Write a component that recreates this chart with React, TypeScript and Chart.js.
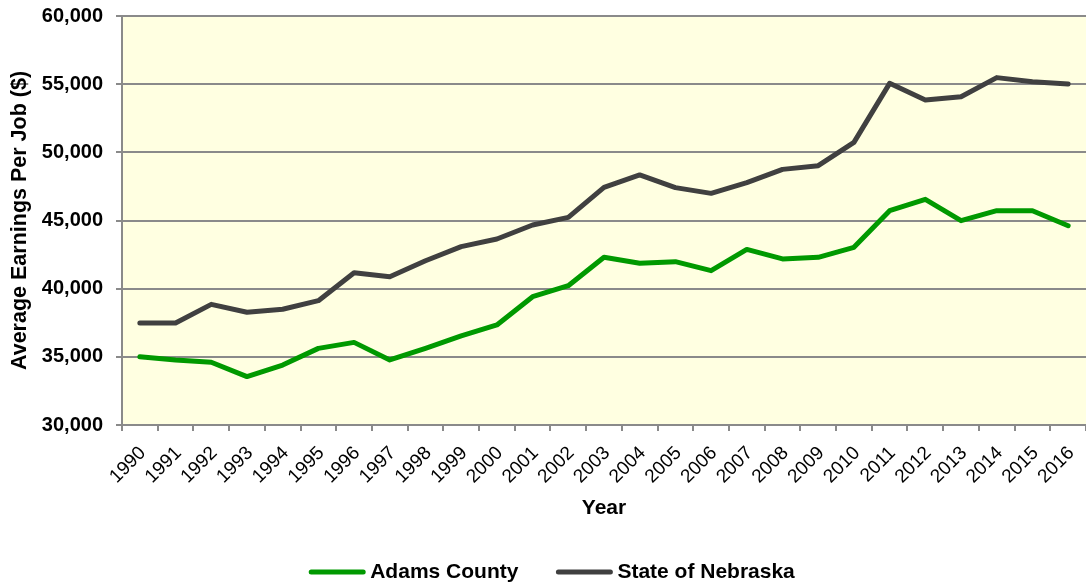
import React, { useEffect, useRef } from 'react';
import { Chart, registerables } from 'chart.js';

Chart.register(...registerables);

const years = [
  '1990', '1991', '1992', '1993', '1994', '1995', '1996', '1997', '1998', '1999',
  '2000', '2001', '2002', '2003', '2004', '2005', '2006', '2007', '2008', '2009',
  '2010', '2011', '2012', '2013', '2014', '2015', '2016',
];

const adamsCounty = [
  35000, 34770, 34600, 33550, 34400, 35620, 36060, 34770, 35620, 36530,
  37340, 39410, 40220, 42300, 41860, 41980, 41320, 42880, 42180, 42300,
  43030, 45720, 46550, 44990, 45720, 45720, 44620,
];

const stateOfNebraska = [
  37480, 37480, 38850, 38270, 38490, 39120, 41170, 40880, 42050, 43080,
  43640, 44670, 45230, 47430, 48340, 47410, 46990, 47780, 48750, 49020,
  50730, 55060, 53840, 54080, 55480, 55180, 55010,
];

const yMin = 30000;
const yMax = 60000;
const yStep = 5000;

const FONT = '"Liberation Sans", Arial, Helvetica, sans-serif';
const GRID = '#8a8a8a';

const plotBackground = {
  id: 'plotBackground',
  beforeDraw(chart: any, _args: any, opts: any) {
    const { ctx, chartArea } = chart;
    if (!chartArea) return;
    ctx.save();
    ctx.fillStyle = opts.color;
    ctx.fillRect(chartArea.left, chartArea.top, chartArea.right - chartArea.left, chartArea.bottom - chartArea.top);
    ctx.restore();
  },
};

const bottomLegend = {
  id: 'bottomLegend',
  afterDraw(chart: any, _args: any, opts: any) {
    const ctx = chart.ctx;
    const ds = chart.data.datasets;
    ctx.save();
    ctx.font = opts.font;
    const widths = ds.map((d: any) => ctx.measureText(d.label).width);
    let total = 0;
    widths.forEach((w: number, i: number) => {
      total += opts.lineLength + opts.textGap + w + (i > 0 ? opts.itemGap : 0);
    });
    let x = opts.centerX - total / 2;
    const y = opts.y;
    ds.forEach((d: any, i: number) => {
      ctx.strokeStyle = d.borderColor;
      ctx.lineWidth = opts.lineWidth;
      ctx.lineCap = 'round';
      ctx.beginPath();
      ctx.moveTo(x + 2, y);
      ctx.lineTo(x + opts.lineLength - 2, y);
      ctx.stroke();
      x += opts.lineLength + opts.textGap;
      ctx.fillStyle = '#000000';
      ctx.textAlign = 'left';
      ctx.textBaseline = 'middle';
      ctx.fillText(d.label, x, y);
      x += widths[i] + opts.itemGap;
    });
    ctx.restore();
  },
};

export default function App() {
  const canvasRef = useRef<HTMLCanvasElement | null>(null);

  useEffect(() => {
    document.body.style.margin = '0';
    const canvas = canvasRef.current;
    if (!canvas) return;
    Chart.defaults.font.family = FONT;
    const chart = new Chart(canvas, {
      type: 'line',
      data: {
        labels: years,
        datasets: [
          {
            label: 'Adams County',
            data: adamsCounty,
            borderColor: '#009900',
            backgroundColor: '#009900',
            borderWidth: 5,
            pointRadius: 0,
            tension: 0,
            borderCapStyle: 'round',
            borderJoinStyle: 'round',
          },
          {
            label: 'State of Nebraska',
            data: stateOfNebraska,
            borderColor: '#404040',
            backgroundColor: '#404040',
            borderWidth: 5,
            pointRadius: 0,
            tension: 0,
            borderCapStyle: 'round',
            borderJoinStyle: 'round',
          },
        ],
      },
      options: {
        responsive: false,
        animation: false,
        layout: { padding: { top: 16, left: 0, right: 0, bottom: 0 } },
        plugins: {
          legend: { display: false },
          tooltip: { enabled: false },
          plotBackground: { color: '#FFFFE1' },
          bottomLegend: {
            font: `bold 21px ${FONT}`,
            lineLength: 56,
            lineWidth: 5,
            textGap: 5,
            itemGap: 38,
            centerX: 552,
            y: 572,
          },
        } as any,
        scales: {
          x: {
            type: 'category',
            offset: true,
            afterFit(scale: any) {
              scale.height = 161;
              scale.paddingLeft = 0;
              scale.paddingRight = 0;
            },
            grid: {
              display: true,
              drawOnChartArea: false,
              drawTicks: true,
              tickLength: 6,
              color: GRID,
              lineWidth: 2,
              offset: true,
            },
            border: { display: true, color: GRID, width: 2 },
            ticks: {
              autoSkip: false,
              minRotation: 45,
              maxRotation: 45,
              padding: 11,
              labelOffset: 3,
              color: '#000000',
              font: { size: 19, family: FONT },
            },
            title: {
              display: true,
              text: 'Year',
              color: '#000000',
              font: { size: 21, weight: 'bold', family: FONT },
              padding: { top: 0, bottom: 65 },
            },
          },
          y: {
            min: yMin,
            max: yMax,
            afterFit(scale: any) {
              scale.width = 122;
              scale.paddingTop = 0;
              scale.paddingBottom = 0;
            },
            grid: {
              color: GRID,
              lineWidth: 2,
              drawTicks: true,
              tickLength: 6,
            },
            border: { display: true, color: GRID, width: 2 },
            ticks: {
              stepSize: yStep,
              padding: 13,
              color: '#000000',
              font: { size: 20, weight: 'bold', family: FONT },
              callback: (v: any) => Number(v).toLocaleString('en-US'),
            },
            title: {
              display: true,
              text: 'Average Earnings Per Job ($)',
              color: '#000000',
              font: { size: 21.5, weight: 'bold', family: FONT },
              padding: { top: 7, bottom: 0 },
            },
          },
        },
      },
      plugins: [plotBackground, bottomLegend],
    });
    return () => chart.destroy();
  }, []);

  return (
    <div style={{ width: 1086, height: 586 }}>
      <canvas ref={canvasRef} width={1086} height={586} style={{ display: 'block' }} />
    </div>
  );
}
